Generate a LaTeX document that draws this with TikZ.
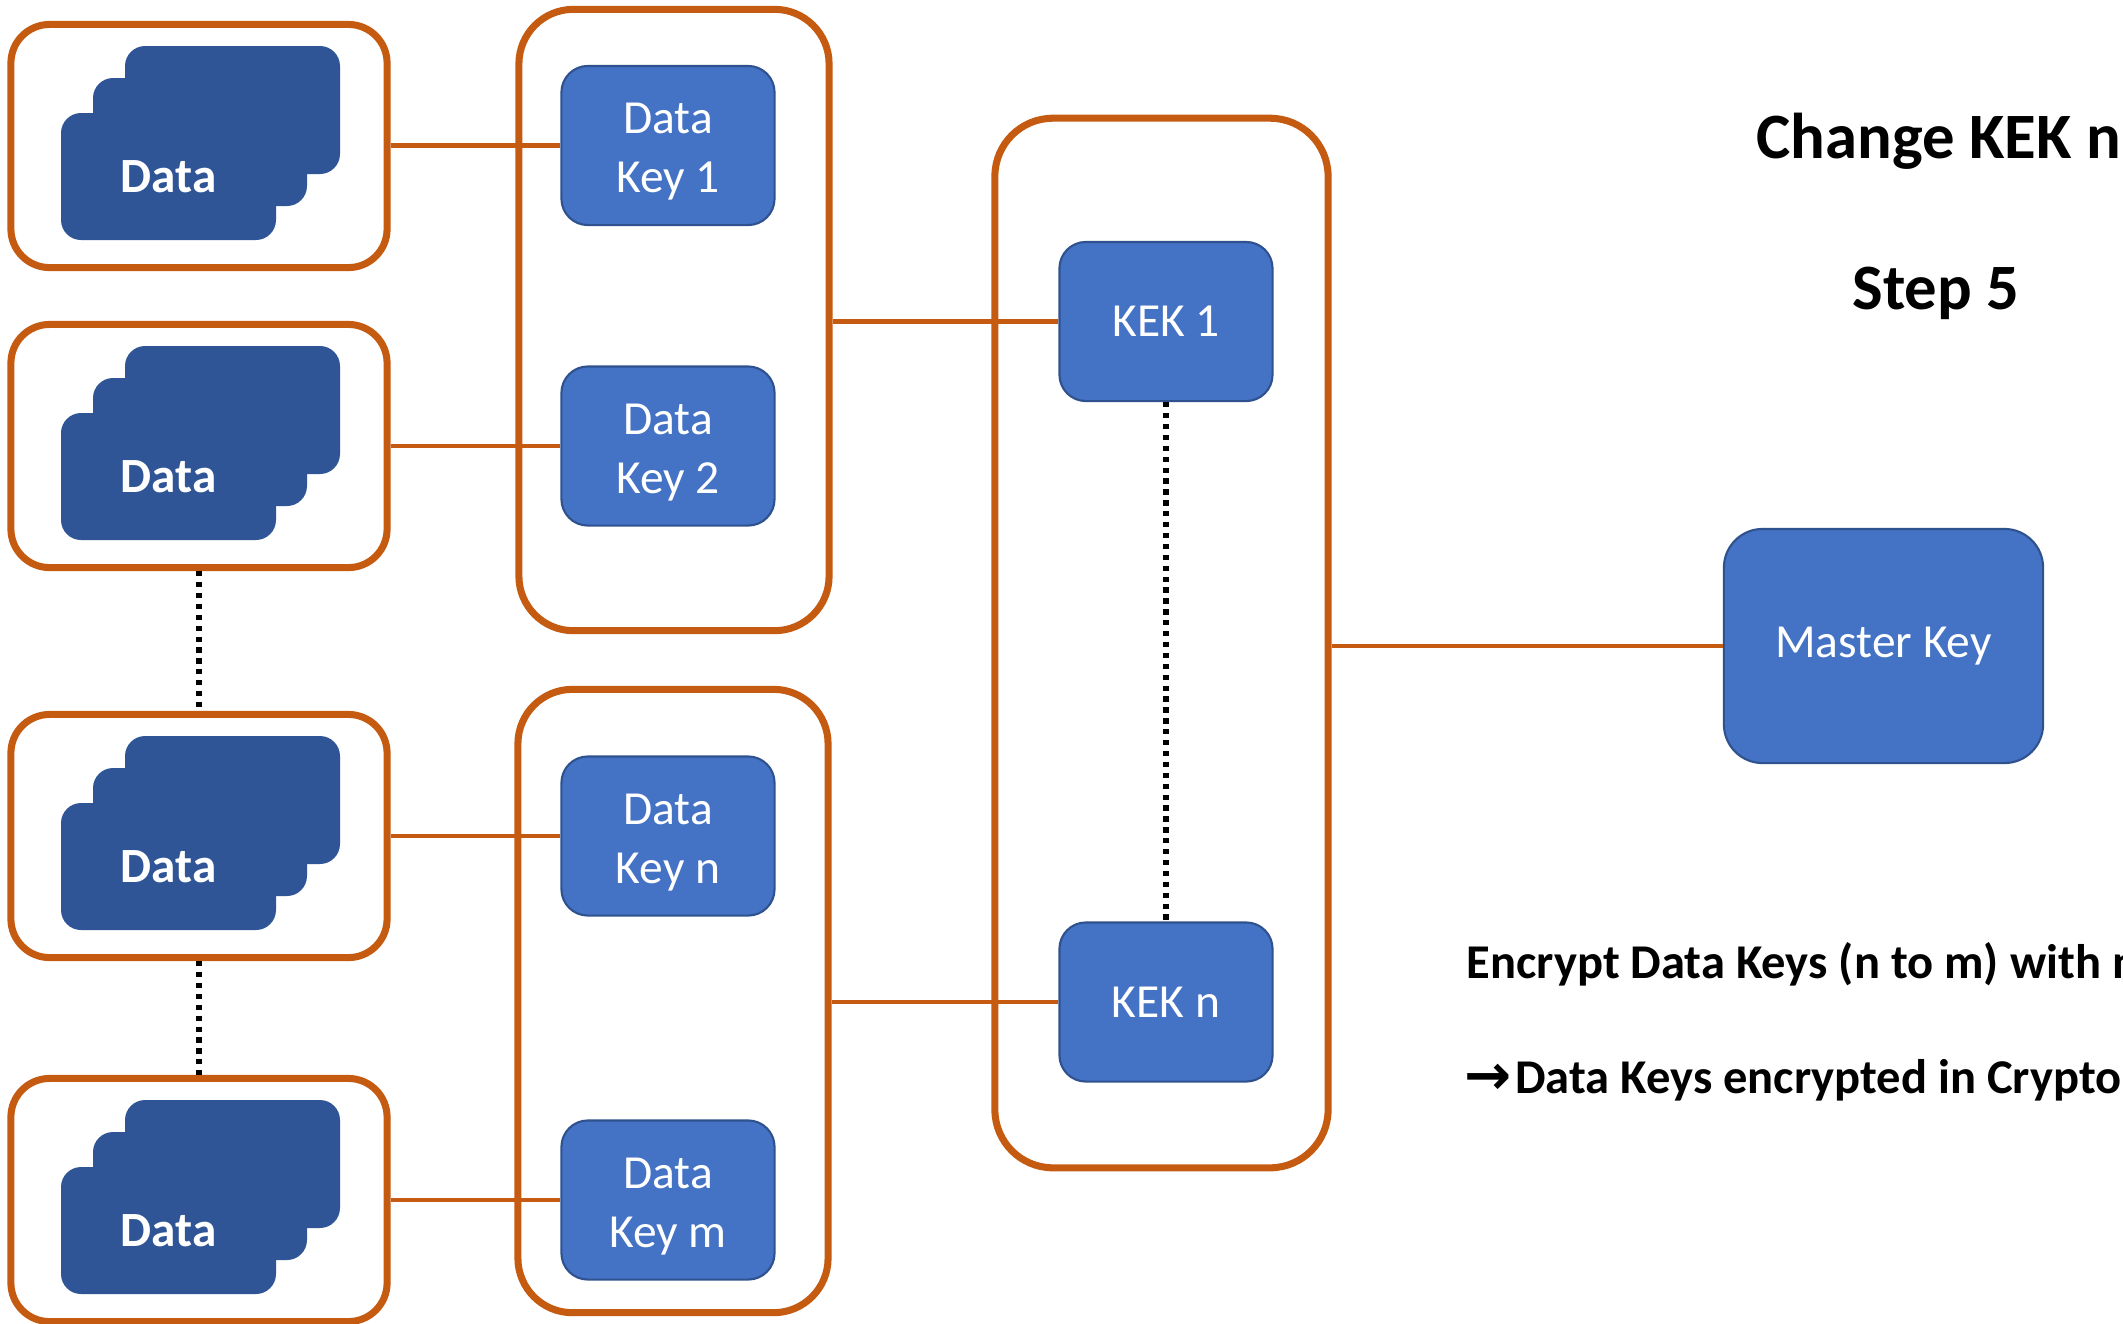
\documentclass[tikz,border=0pt]{standalone}
\usepackage{fontspec}
\setmainfont{Carlito}
\newfontfamily\arrowfont{DejaVu Sans}
\usetikzlibrary{positioning,calc}
\definecolor{RimOrange}{RGB}{197,90,17}
\definecolor{CardBlue}{RGB}{47,85,151}
\definecolor{KeyBlue}{RGB}{68,114,196}
\definecolor{KeyEdge}{RGB}{47,82,143}
\tikzset{
  holder/.style={draw=RimOrange,line width=2pt,fill=white,inner sep=0pt},
  keybox/.style={rectangle,draw=KeyEdge,fill=KeyBlue,line width=0.6pt,rounded corners=7.5pt,
    text=white,font=\fontsize{13.5}{16.8}\selectfont,align=center,
    minimum width=2.13cm,minimum height=1.59cm,inner sep=0pt},
  link/.style={draw=RimOrange,line width=1.15pt},
  gap/.style={draw=black,line width=1.6pt,dash pattern=on 1.5pt off 1.6pt},
  card/.style={fill=CardBlue,rounded corners=5.7pt},
}

\begin{document}
\begin{tikzpicture}[x=0.01cm,y=-0.01cm]
\clip (0,0) rectangle (2123,1323);
\fill[white] (0,0) rectangle (2123,1323);
% containers
\foreach \name/\ypos in {set1/146,set2/446,set3/836,set4/1200}
  \node[holder,rounded corners=11pt,minimum width=3.76cm,minimum height=2.43cm] (\name) at (199,\ypos) {};
\node[holder,rounded corners=15.5pt,minimum width=3.1cm,minimum height=6.21cm] (keysA) at (674,320) {};
\node[holder,rounded corners=15.5pt,minimum width=3.1cm,minimum height=6.23cm] (keysB) at (673,1001) {};
\node[holder,rounded corners=16.5pt,minimum width=3.33cm,minimum height=10.49cm] (kekhold) at (1161.5,643) {};
% stacked data cards
\foreach \name in {set1,set2,set3,set4}{
  \begin{scope}[shift={(\name.center)}]
    \fill[card] (-74,-100) rectangle (141,28);
    \fill[card] (-106,-68) rectangle (108,60);
    \fill[card] (-138,-33) rectangle (77,94);
    \node[text=white,font=\fontsize{14}{16}\selectfont\bfseries] at (-30.5,31) {Data};
  \end{scope}
}
% keys
\foreach \name/\ypos/\tag in {key1/145.5/1,key2/446/2,keyn/836/n,keym/1200/m}
  \node[keybox] (\name) at (668,\ypos) {\rule{0pt}{12.2pt}Data\\Key \tag};
\node[keybox] (kek1) at (1166,321.5) {KEK 1};
\node[keybox] (kekn) at (1166,1002) {KEK n};
\node[keybox,rounded corners=11pt,minimum width=3.19cm,minimum height=2.34cm] (master) at (1883.5,646) {Master Key};
% connectors
\foreach \a/\b in {set1/key1,set2/key2,set3/keyn,set4/keym}
  \draw[link] (\b.west -| \a.east) -- (\b.west);
\draw[link] (kek1.west -| keysA.east) -- (kek1.west);
\draw[link] (kekn.west -| keysB.east) -- (kekn.west);
\draw[link] (master.west -| kekhold.east) -- (master.west);
\draw[gap] (kek1.south) -- (kekn.north);
\draw[gap] (set2.south) -- (set3.north);
\draw[gap] (set3.south) -- (set4.north);
% texts
\node[anchor=base west,inner sep=0pt,font=\fontsize{18.4}{22}\selectfont\bfseries] (title) at (1756,158) {Change KEK n};
\node[anchor=base,inner sep=0pt,font=\fontsize{18.4}{22}\selectfont\bfseries] (step) at (1936,309) {Step 5};
\node[anchor=base west,inner sep=0pt,font=\fontsize{13.8}{17}\selectfont\bfseries] (todo) at (1466,978) {Encrypt Data Keys (n to m) with n};
\node[anchor=base west,inner sep=0pt,font=\fontsize{13.8}{17}\selectfont\bfseries] (result) at (1464,1093) {{\arrowfont\bfseries\fontsize{16}{17}\selectfont\raisebox{-0.3pt}{→}}\hspace{1pt}Data Keys encrypted in Crypto};
\end{tikzpicture}
\end{document}
